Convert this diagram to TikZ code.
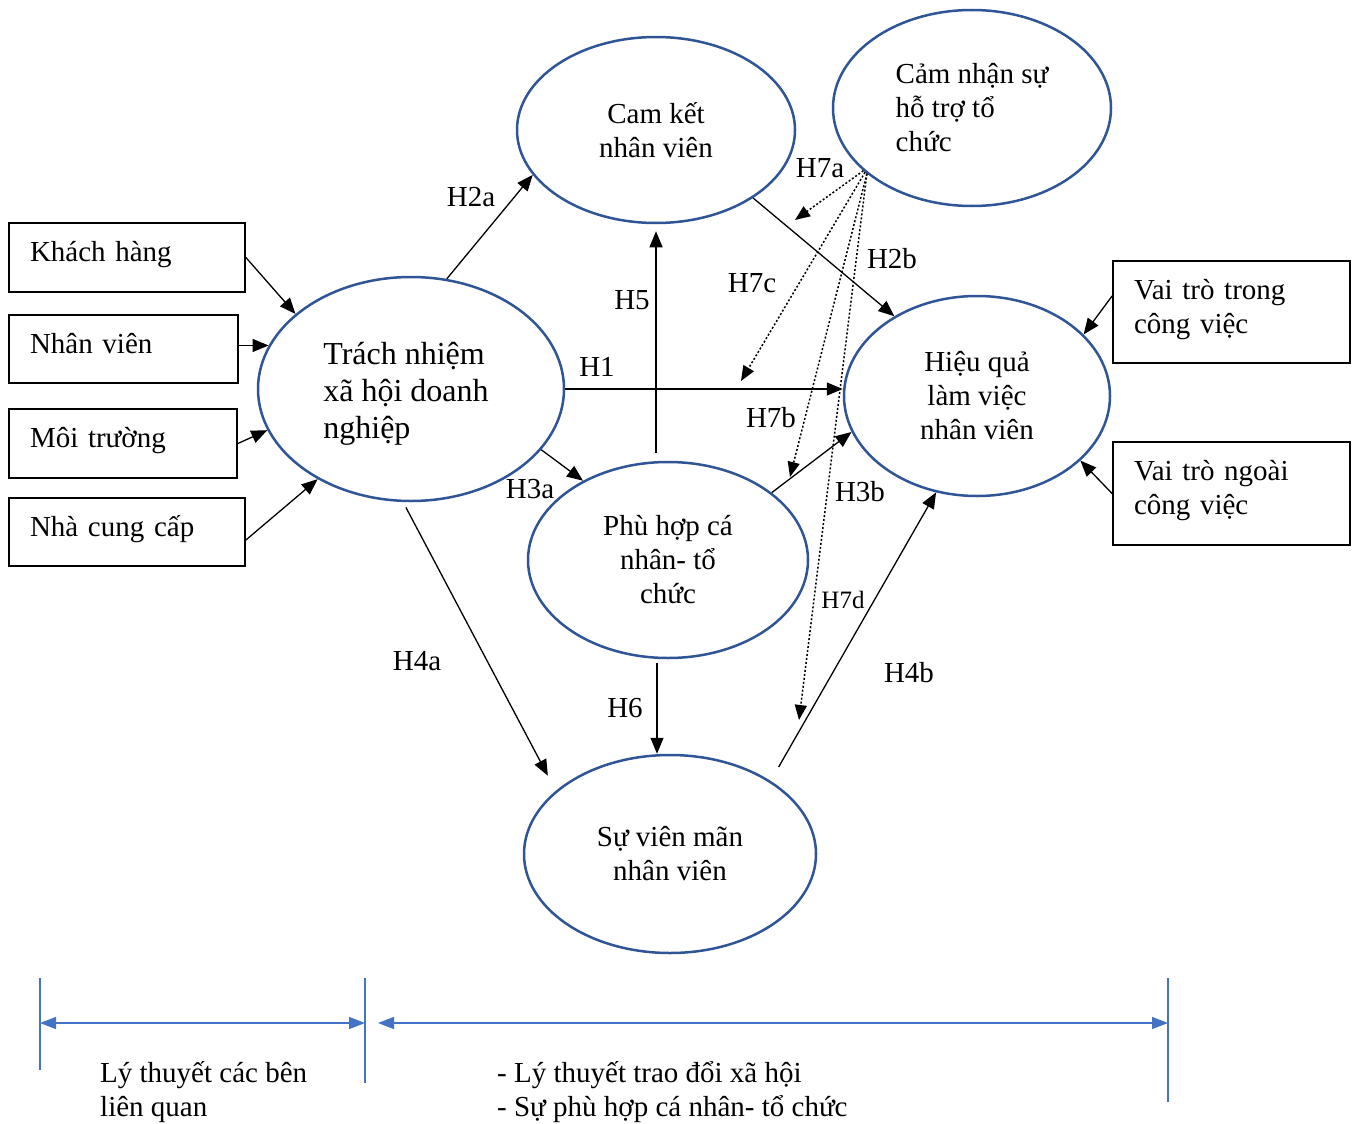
\documentclass[tikz,border=0pt]{standalone}
\usepackage{fontspec}
\setmainfont{Liberation Serif}
\usetikzlibrary{arrows.meta,shapes.geometric,calc}
\definecolor{ellblue}{HTML}{2F5597}
\definecolor{linblue}{HTML}{4472C4}
\begin{document}
\begin{tikzpicture}[x=1pt,y=-1pt,
  txt/.style={font=\fontsize{29}{34}\selectfont},
  ell/.style={ellipse, draw=ellblue, line width=2.5pt, inner sep=0pt, align=center, txt},
  box/.style={draw=black, line width=1.8pt, rectangle, inner xsep=21pt, inner ysep=0pt, align=left, text depth=12pt, txt},
  arr/.style={line width=1.3pt, -{Triangle[length=16pt,width=13pt]}},
  dotarr/.style={line width=1.5pt, dash pattern=on 2pt off 2pt, -{Triangle[length=15pt,width=12pt]}},
  lab/.style={inner sep=0pt, txt},
  bl/.style={draw=linblue, line width=1.5pt},
  btip/.style={linblue, line width=1.5pt, {Triangle[length=16pt,width=12pt]}-{Triangle[length=16pt,width=12pt]}}
]
\useasboundingbox (0,0) rectangle (1363,1124);

% ellipses
\node[ell, minimum width=278pt, minimum height=186pt] (ck) at (656,130) {Cam kết\\nhân viên};
\node[ell, align=left, minimum width=278pt, minimum height=196pt] (cn) at (972,108) {Cảm nhận sự\\hỗ trợ tổ\\chức};
\node[ell, minimum width=306pt, minimum height=224pt] (tn) at (411,389) {};
\node[lab, align=left, font=\fontsize{32}{37}\selectfont] (tnt) at (406,394) {Trách nhiệm\\xã hội doanh\\nghiệp};
\node[ell, minimum width=266pt, minimum height=200pt] (hq) at (977,396) {Hiệu quả\\làm việc\\nhân viên};
\node[ell, minimum width=280pt, minimum height=196pt] (ph) at (668,560) {Phù hợp cá\\nhân- tổ\\chức};
\node[ell, minimum width=292pt, minimum height=198pt] (sv) at (670,854) {Sự viên mãn\\nhân viên};

% boxes
\node[box, text width=194pt, minimum height=69pt] (kh) at (127,257.5) {Khách hàng};
\node[box, text width=187pt, minimum height=68pt] (nv) at (123.5,349) {Nhân viên};
\node[box, text width=186pt, minimum height=69pt] (mt) at (123,443.5) {Môi trường};
\node[box, text width=194pt, minimum height=68pt] (ncc) at (127,532) {Nhà cung cấp};
\node[box, text width=195pt, text depth=46pt, minimum height=102pt] (vt) at (1231.5,312) {Vai trò trong\\công việc};
\node[box, text width=195pt, text depth=46pt, minimum height=103pt] (vn) at (1231.5,493.5) {Vai trò ngoài\\công việc};

% stakeholder arrows
\draw[arr] (kh.east) -- (tn.147);
\draw[arr] (nv.east |- tn.163) -- (tn.163);
\draw[arr] (mt.east) -- (tn.196);
\draw[arr] ([yshift=-8pt]ncc.east) -- (tn.224);
\draw[arr] ([yshift=16pt]vt.west) -- (hq.30);
\draw[arr] (vn.west) -- (hq.328);

% hypotheses
\draw[arr] (tn.72) -- (ck.200);
\draw[arr] (ck.325) -- (hq.136);
\draw[arr, shorten <=8pt, shorten >=7pt] (ck.south |- ph.north) -- (ck.south);
\draw[arr] (tn.east) -- (tn.east -| hq.west);
\draw[arr] (tn.335) -- (ph.137);
\draw[arr] (ph.33) -- (hq.196);
\draw[arr, shorten <=6pt, shorten >=17pt] (tn.266) -- (sv.151);
\draw[arr, shorten <=16pt] (sv.36) -- (hq.247);
\draw[arr] ([xshift=-11pt,yshift=-4pt]ph.south) -- ([xshift=-13pt]sv.north);

% mediating (dotted)
\coordinate (e7a) at (795,220);
\coordinate (e7c) at (741,381);
\coordinate (e7b) at (790,477);
\coordinate (e7d) at (799,720);
\draw[dotarr] (cn.210) -- (e7a);
\draw[dotarr] (cn.211) -- (e7c);
\draw[dotarr] (cn.212) -- (e7b);
\draw[dotarr] (cn.212.5) -- (e7d);

% labels
\node[lab] (l2a) at (471,197) {H2a};
\node[lab] (l2b) at (892,259) {H2b};
\node[lab] (l5) at (632,300) {H5};
\node[lab] (l1) at (597,367) {H1};
\node[lab] (l7a) at (820,168) {H7a};
\node[lab] (l7c) at (752,283) {H7c};
\node[lab] (l7b) at (771,418) {H7b};
\node[lab] (l3a) at (530,489) {H3a};
\node[lab] (l3b) at (860,492) {H3b};
\node[lab, font=\fontsize{25}{30}\selectfont] (l7d) at (843,600) {H7d};
\node[lab] (l4a) at (417,661) {H4a};
\node[lab] (l4b) at (909,673) {H4b};
\node[lab] (l6) at (625,708) {H6};

% bottom theory ranges
\draw[bl] (40,978) -- (40,1070);
\draw[bl] (365,978) -- (365,1083);
\draw[bl] (1168,978) -- (1168,1102);
\draw[btip] (40,1023) -- (365,1023);
\draw[btip] (378,1023) -- (1168,1023);
\node[lab, align=left, anchor=west] (bt1) at (100,1092) {Lý thuyết các bên\\liên quan};
\node[lab, align=left, anchor=west] (bt2) at (497,1092) {- Lý thuyết trao đổi xã hội\\- Sự phù hợp cá nhân- tổ chức};
\end{tikzpicture}
\end{document}
